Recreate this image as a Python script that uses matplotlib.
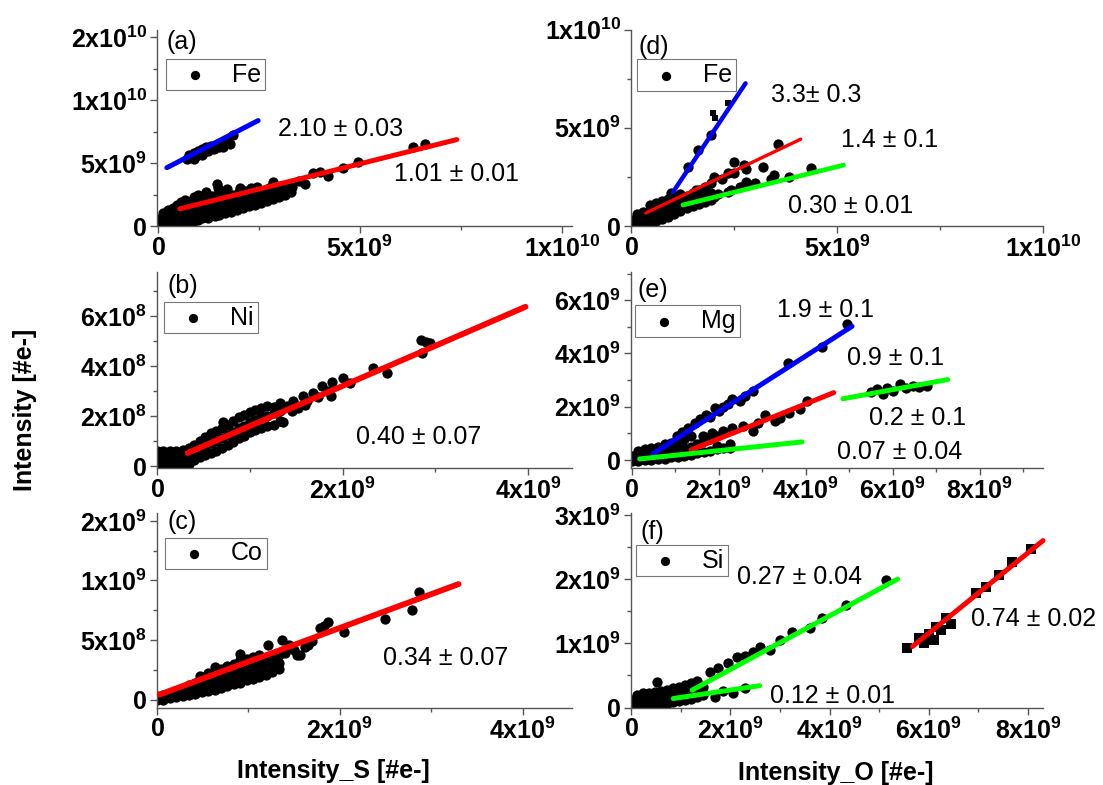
import numpy as np
import matplotlib.pyplot as plt

plt.rcParams['font.family'] = ['Liberation Sans', 'DejaVu Sans']
plt.rcParams['mathtext.fontset'] = 'custom'
plt.rcParams['mathtext.rm'] = 'Liberation Sans:bold'
plt.rcParams['mathtext.bf'] = 'Liberation Sans:bold'
plt.rcParams['mathtext.default'] = 'bf'

G = 1e9

# (a) Fe vs S, (x, y) in 1e9
a_pts = [
    (0.0, 0.05), (0.02, 0.45), (0.08, 0.2), (0.1, 0.7), (0.12, 1.05), (0.18, 0.0),
    (0.2, 0.45), (0.22, 0.85), (0.25, 1.25), (0.3, 0.2), (0.31, 0.65), (0.33, 1.0),
    (0.36, 1.45), (0.4, 0.05), (0.41, 0.45), (0.43, 0.85), (0.45, 1.2), (0.47, 1.7),
    (0.5, 0.25), (0.52, 0.65), (0.53, 1.05), (0.55, 1.45), (0.57, 1.9), (0.6, 0.1),
    (0.62, 0.5), (0.63, 0.9), (0.65, 1.3), (0.66, 1.7), (0.68, 2.1), (0.7, 0.3),
    (0.72, 0.75), (0.73, 1.15), (0.75, 1.5), (0.77, 1.9), (0.8, 0.2), (0.81, 0.6),
    (0.83, 1.0), (0.85, 1.4), (0.86, 1.8), (0.88, 2.3), (0.9, 0.4), (0.92, 0.8),
    (0.93, 1.2), (0.95, 1.6), (0.97, 2.0), (0.99, 2.5), (1.0, 0.5), (1.02, 0.95),
    (1.04, 1.35), (1.06, 1.75), (1.08, 2.15), (1.1, 0.6), (1.12, 1.05), (1.14, 1.45),
    (1.16, 1.85), (1.18, 2.3), (1.2, 2.7), (1.25, 0.65), (1.27, 1.1), (1.29, 1.55),
    (1.31, 1.95), (1.33, 2.4), (1.4, 0.8), (1.41, 1.25), (1.43, 1.65), (1.44, 2.05),
    (1.46, 2.5), (1.48, 3.0), (1.46, 3.35), (1.52, 0.9), (1.54, 1.4), (1.56, 1.85),
    (1.58, 2.25), (1.6, 2.7), (1.65, 1.0), (1.67, 1.5), (1.68, 1.95), (1.7, 2.4),
    (1.72, 2.9), (1.8, 1.15), (1.82, 1.6), (1.84, 2.05), (1.86, 2.5), (1.95, 1.3),
    (1.97, 1.75), (1.99, 2.2), (2.0, 2.7), (2.02, 3.0), (2.1, 1.45), (2.12, 1.9),
    (2.14, 2.4), (2.16, 2.8), (2.25, 1.55), (2.27, 2.0), (2.29, 2.5), (2.3, 3.0),
    (2.4, 1.7), (2.42, 2.2), (2.44, 2.7), (2.46, 3.1), (2.55, 1.85), (2.57, 2.3),
    (2.59, 2.8), (2.7, 2.0), (2.72, 2.5), (2.74, 3.0), (2.85, 3.5), (2.86, 2.15),
    (2.88, 2.6), (2.9, 3.1), (3.0, 2.3), (3.02, 2.8), (3.05, 3.2), (3.15, 2.5),
    (3.18, 2.95), (3.19, 3.1), (3.3, 2.7), (3.32, 3.1), (3.5, 3.6), (3.65, 3.3),
    (3.84, 4.2), (4.0, 4.3), (4.2, 4.0), (4.58, 4.6), (4.95, 5.1), (6.31, 6.3),
    (6.6, 6.5)]
a_hi_pts = [
    (0.72, 5.35), (0.78, 5.6), (0.85, 5.45), (0.88, 5.8), (0.95, 5.55), (0.98, 5.95),
    (1.05, 5.7), (1.08, 6.1), (1.15, 5.85), (1.2, 6.25), (1.25, 5.95), (1.32, 6.35),
    (1.38, 6.1), (1.45, 6.45), (1.5, 6.25), (1.58, 6.6), (1.62, 6.3), (1.7, 6.7),
    (1.78, 6.5), (1.86, 7.2), (0.9, 5.3), (1.1, 5.6)]
a_fit_blue = ([0.22, 2.48], [4.63, 8.37])
a_fit_red = ([0.54, 7.4], [1.36, 6.86])

# (b) Ni vs S, x in 1e9, y in 1e8
b_pts = [
    (0.0, 0.1), (0.0, 0.35), (0.0, 0.6), (0.07, 0.1), (0.07, 0.35), (0.07, 0.6),
    (0.14, 0.1), (0.14, 0.35), (0.14, 0.6), (0.21, 0.05), (0.21, 0.3), (0.21, 0.6),
    (0.28, 0.1), (0.28, 0.35), (0.28, 0.65), (0.35, 0.1), (0.35, 0.4), (0.35, 0.7),
    (0.4, 0.25), (0.4, 0.55), (0.4, 0.85), (0.46, 0.35), (0.46, 0.7), (0.46, 1.0),
    (0.52, 0.45), (0.52, 0.8), (0.52, 1.15), (0.58, 0.5), (0.58, 0.9), (0.58, 1.3),
    (0.64, 0.6), (0.64, 1.0), (0.64, 1.4), (0.7, 0.7), (0.7, 1.1), (0.7, 1.5),
    (0.71, 1.75), (0.76, 0.85), (0.76, 1.25), (0.76, 1.65), (0.82, 0.95), (0.82, 1.35),
    (0.82, 1.8), (0.88, 1.1), (0.88, 1.5), (0.88, 1.95), (0.94, 1.2), (0.94, 1.6),
    (0.94, 2.05), (1.0, 1.35), (1.0, 1.75), (1.0, 2.15), (1.06, 1.45), (1.06, 1.85),
    (1.06, 2.25), (1.12, 1.5), (1.12, 1.95), (1.12, 2.3), (1.19, 1.6), (1.19, 2.0),
    (1.19, 2.4), (1.26, 1.65), (1.26, 2.1), (1.26, 2.35), (1.33, 1.8), (1.33, 2.2),
    (1.33, 2.5), (1.36, 1.75), (1.4, 2.4), (1.45, 2.2), (1.47, 2.6), (1.52, 2.3),
    (1.57, 2.8), (1.6, 2.45), (1.62, 2.6), (1.68, 2.9), (1.73, 2.75), (1.78, 3.2),
    (1.84, 3.0), (1.87, 2.8), (1.89, 3.35), (2.0, 3.5), (2.08, 3.3), (2.33, 3.9),
    (2.48, 3.7), (2.84, 5.05), (2.9, 4.95), (2.94, 4.9), (2.86, 4.5)]
b_fit_red = ([0.33, 3.97], [0.52, 6.36])

# (c) Co vs S, x in 1e9, y in 1e8
c_pts = [
    (0.0, 0.0), (0.0, 0.3), (0.07, 0.0), (0.07, 0.4), (0.14, 0.1), (0.14, 0.5),
    (0.21, 0.2), (0.21, 0.7), (0.28, 0.3), (0.28, 0.8), (0.35, 0.4), (0.35, 0.9),
    (0.35, 1.2), (0.42, 0.5), (0.42, 1.0), (0.42, 1.4), (0.49, 0.6), (0.49, 1.1),
    (0.49, 1.6), (0.47, 2.0), (0.56, 0.7), (0.56, 1.2), (0.56, 1.7), (0.56, 2.2),
    (0.63, 0.8), (0.63, 1.3), (0.63, 1.8), (0.63, 2.4), (0.63, 2.7), (0.7, 1.0),
    (0.7, 1.5), (0.7, 2.0), (0.7, 2.6), (0.77, 1.1), (0.77, 1.6), (0.77, 2.1),
    (0.77, 2.8), (0.84, 1.3), (0.84, 1.8), (0.84, 2.3), (0.84, 3.0), (0.91, 1.4),
    (0.91, 1.9), (0.91, 2.5), (0.91, 3.3), (0.91, 3.8), (0.98, 1.6), (0.98, 2.1),
    (0.98, 2.7), (0.98, 3.4), (1.05, 1.7), (1.05, 2.3), (1.05, 2.9), (1.05, 3.6),
    (1.12, 1.9), (1.12, 2.5), (1.12, 3.1), (1.12, 3.7), (1.19, 2.1), (1.19, 2.7),
    (1.19, 3.3), (1.21, 4.55), (1.26, 2.3), (1.26, 2.9), (1.26, 3.5), (1.33, 2.6),
    (1.33, 3.1), (1.33, 3.7), (1.37, 5.0), (1.4, 3.9), (1.45, 4.6), (1.5, 4.2),
    (1.53, 3.7), (1.56, 3.7), (1.62, 4.4), (1.65, 4.6), (1.7, 4.9), (1.78, 6.0),
    (1.83, 6.2), (1.87, 6.5), (2.05, 5.65), (2.49, 6.8), (2.79, 7.5), (2.87, 9.0)]
c_fit_red = ([0.03, 3.3], [0.42, 9.7])

# (d) Fe vs O, (x, y) in 1e9
d_pts = [
    (0.0, 0.05), (0.0, 0.3), (0.15, 0.05), (0.15, 0.35), (0.15, 0.6), (0.3, 0.1),
    (0.3, 0.4), (0.3, 0.7), (0.45, 0.15), (0.45, 0.45), (0.45, 0.75), (0.45, 1.05),
    (0.6, 0.25), (0.6, 0.55), (0.6, 0.85), (0.6, 1.15), (0.75, 0.35), (0.75, 0.65),
    (0.75, 0.95), (0.75, 1.25), (0.9, 0.45), (0.9, 0.75), (0.9, 1.05), (0.9, 1.35),
    (1.05, 0.6), (1.05, 0.9), (1.05, 1.2), (1.05, 1.5), (1.2, 0.75), (1.2, 1.05),
    (1.2, 1.35), (1.2, 1.65), (1.35, 0.9), (1.35, 1.2), (1.35, 1.55), (1.5, 1.0),
    (1.5, 1.3), (1.5, 1.7), (1.65, 1.1), (1.65, 1.45), (1.65, 1.85), (1.8, 1.2),
    (1.8, 1.6), (1.8, 2.0), (1.95, 1.3), (1.95, 1.7), (1.95, 2.2), (2.1, 1.65),
    (2.2, 2.4), (2.35, 1.75), (2.5, 2.7), (2.65, 2.0), (2.8, 2.9), (3.0, 2.2),
    (3.2, 3.0), (3.4, 2.4), (2.49, 3.25), (2.74, 3.1), (3.56, 4.16), (2.35, 2.69),
    (2.01, 2.49), (1.57, 1.83), (2.78, 2.23), (3.46, 2.59), (3.83, 2.49), (4.36, 2.94),
    (2.42, 1.83), (2.01, 1.47), (0.97, 1.68), (1.38, 3.0), (1.62, 3.86), (1.94, 4.62)]
d_sq_pts = [(1.99, 5.74), (2.05, 5.5), (2.35, 6.24)]
d_fit_blue = ([1.02, 2.78], [1.73, 7.26])
d_fit_red = ([0.36, 4.12], [0.66, 4.42])
d_fit_green = ([1.26, 5.16], [1.07, 3.1])

# (e) Mg vs O, (x, y) in 1e9
e_pts = [
    (0.0, -0.05), (0.0, 0.15), (0.15, -0.05), (0.15, 0.15), (0.15, 0.35), (0.3, 0.0),
    (0.3, 0.2), (0.3, 0.4), (0.45, 0.0), (0.45, 0.2), (0.45, 0.45), (0.6, 0.05),
    (0.6, 0.25), (0.6, 0.5), (0.75, 0.05), (0.75, 0.3), (0.75, 0.6), (0.9, 0.1),
    (0.9, 0.35), (0.9, 0.65), (1.05, 0.1), (1.05, 0.4), (1.05, 0.75), (1.2, 0.15),
    (1.2, 0.45), (1.2, 0.8), (1.35, 0.2), (1.35, 0.5), (1.35, 0.9), (1.5, 0.25),
    (1.5, 0.6), (1.65, 0.3), (1.65, 0.7), (1.8, 0.35), (1.8, 0.8), (1.95, 0.4),
    (1.95, 0.9), (2.1, 0.45), (2.25, 0.45), (1.4, 0.34), (1.95, 0.53), (2.25, 0.6),
    (1.03, 0.91), (1.15, 1.05), (1.3, 1.2), (1.45, 1.4), (1.56, 1.55), (1.7, 1.7),
    (1.8, 1.6), (1.91, 1.96), (2.0, 1.85), (2.1, 2.0), (2.21, 2.11), (2.3, 2.3),
    (2.48, 2.23), (2.6, 2.4), (2.78, 2.6), (3.59, 3.66), (4.37, 4.23), (4.94, 5.09),
    (1.63, 0.91), (1.85, 1.0), (2.09, 1.09), (2.3, 1.2), (2.55, 1.28), (2.78, 1.09),
    (2.9, 1.4), (3.06, 1.7), (3.3, 1.45), (3.4, 1.58), (3.6, 1.75), (3.86, 1.92),
    (4.02, 2.23), (5.63, 2.68), (5.86, 2.72), (6.16, 2.87), (6.46, 2.79), (6.78, 2.79),
    (5.77, 2.49), (5.5, 2.55), (6.0, 2.6), (6.3, 2.7), (6.6, 2.75)]
e_fit_blue = ([0.48, 5.06], [0.23, 5.02])
e_fit_red = ([1.36, 4.64], [0.38, 2.53])
e_fit_green_lo = ([0.18, 3.91], [0.04, 0.68])
e_fit_green_hi = ([4.85, 7.26], [2.3, 3.02])

# (f) Si vs O, (x, y) in 1e9
f_pts = [
    (0.0, 0.02), (0.0, 0.12), (0.12, 0.02), (0.12, 0.12), (0.12, 0.2), (0.24, 0.02),
    (0.24, 0.12), (0.24, 0.22), (0.36, 0.03), (0.36, 0.13), (0.36, 0.22), (0.48, 0.04),
    (0.48, 0.14), (0.48, 0.24), (0.52, 0.39), (0.6, 0.05), (0.6, 0.15), (0.6, 0.25),
    (0.72, 0.06), (0.72, 0.16), (0.72, 0.27), (0.84, 0.08), (0.84, 0.18), (0.84, 0.3),
    (0.96, 0.1), (0.96, 0.2), (0.96, 0.32), (1.08, 0.12), (1.08, 0.22), (1.08, 0.35),
    (1.2, 0.14), (1.2, 0.25), (1.2, 0.38), (1.32, 0.17), (1.32, 0.28), (1.32, 0.42),
    (1.44, 0.2), (1.44, 0.32), (1.59, 0.56), (1.75, 0.62), (1.95, 0.7), (2.13, 0.78),
    (2.3, 0.8), (2.45, 0.86), (2.6, 0.95), (2.79, 0.9), (3.0, 1.05), (3.24, 1.17),
    (3.6, 1.24), (3.84, 1.4), (4.34, 1.6), (5.14, 1.98), (2.05, 0.23), (1.69, 0.16),
    (1.85, 0.25), (2.3, 0.3)]
f_sq_pts = [
    (5.55, 0.93), (5.81, 1.09), (6.01, 1.14), (6.15, 1.26), (6.35, 1.4), (6.95, 1.79),
    (7.16, 1.88), (7.42, 2.07), (7.68, 2.27), (8.06, 2.47), (5.9, 1.0), (6.1, 1.05),
    (6.25, 1.2), (6.45, 1.3)]
f_fit_green_hi = ([1.23, 5.37], [0.27, 2.0])
f_fit_green_lo = ([0.85, 2.59], [0.14, 0.34])
f_fit_red = ([5.67, 8.3], [0.95, 2.6])

BLUE, RED, GREEN = '#0000ff', '#ff0000', '#00ff00'
ZERO = r'$0$'

fig = plt.figure(figsize=(11.03, 7.85), dpi=100)

# axes boxes in figure fraction
ax_a = fig.add_axes([0.1423, 0.7121, 0.3762, 0.2503])
ax_b = fig.add_axes([0.1423, 0.4038, 0.3762, 0.2497])
ax_c = fig.add_axes([0.1423, 0.0987, 0.3762, 0.2478])
ax_d = fig.add_axes([0.5721, 0.7121, 0.3735, 0.2503])
ax_e = fig.add_axes([0.5721, 0.4038, 0.3735, 0.2497])
ax_f = fig.add_axes([0.5721, 0.0987, 0.3735, 0.2478])


def style(ax, xlim, ylim, xt, xl, xminor, yt, yl, yminor):
    ax.set_xlim(xlim)
    ax.set_ylim(ylim)
    ax.set_xticks(xt, xl)
    ax.set_yticks(yt, yl)
    ax.set_xticks(xminor, minor=True)
    ax.set_yticks(yminor, minor=True)
    for s in ['top', 'right']:
        ax.spines[s].set_visible(False)
    for s in ['left', 'bottom']:
        ax.spines[s].set_color('#555555')
        ax.spines[s].set_linewidth(1.0)
    ax.tick_params(which='major', direction='out', length=5, width=1,
                   color='#555555', labelsize=18, pad=2)
    ax.tick_params(which='minor', direction='out', length=3, width=1, color='#555555')


def dots(ax, pts, sx, sy, marker='o', size=55, label=None):
    p = np.array(pts)
    ax.scatter(p[:, 0] * sx, p[:, 1] * sy, s=size, c='black', marker=marker,
               linewidths=0, label=label, zorder=2)


def fit(ax, line, sx, sy, color, lw=3.6):
    ax.plot(np.array(line[0]) * sx, np.array(line[1]) * sy, color=color, lw=lw,
            solid_capstyle='round', zorder=3, clip_on=False)


def note(ax, x, y, s, sx, sy):
    ax.text(x * sx, y * sy, s, fontsize=18, ha='center', va='center_baseline')


def tag(ax, x, y, s):
    ax.text(x, y, s, fontsize=18, ha='left', va='top', transform=ax.transAxes)


def key(ax, x, y):
    ax.legend(loc='upper left', bbox_to_anchor=(x, y), fontsize=18, frameon=True,
              fancybox=False, edgecolor='#777777', framealpha=1, borderpad=0.15,
              handlelength=2.0, handletextpad=0.5, borderaxespad=0, markerscale=0.9)
    ax.get_legend().get_frame().set_linewidth(0.8)


# (a)
dots(ax_a, a_pts, G, G, label='Fe')
dots(ax_a, a_hi_pts, G, G)
fit(ax_a, a_fit_blue, G, G, BLUE)
fit(ax_a, a_fit_red, G, G, RED)
style(ax_a, (-0.025 * G, 10.25 * G), (0, 15.6 * G),
      [0, 5 * G, 10 * G], [ZERO, r'$5x10^{9}$', r'$1x10^{10}$'], [2.5 * G, 7.5 * G],
      [0, 5 * G, 10 * G, 15 * G], [ZERO, r'$5x10^{9}$', r'$1x10^{10}$', r'$2x10^{10}$'],
      [2.5 * G, 7.5 * G, 12.5 * G])
note(ax_a, 4.53, 7.89, '2.10 ± 0.03', G, G)
note(ax_a, 7.40, 4.31, '1.01 ± 0.01', G, G)
tag(ax_a, 0.024, 1.0, '(a)')
key(ax_a, 0.022, 0.85)

# (b)
dots(ax_b, b_pts, G, 1e8, label='Ni')
fit(ax_b, b_fit_red, G, 1e8, RED, lw=4.2)
style(ax_b, (0, 4.47 * G), (-0.08e8, 7.75e8),
      [0, 2 * G, 4 * G], [ZERO, r'$2x10^{9}$', r'$4x10^{9}$'], [1 * G, 3 * G],
      [0, 2e8, 4e8, 6e8], [ZERO, r'$2x10^{8}$', r'$4x10^{8}$', r'$6x10^{8}$'],
      [1e8, 3e8, 5e8, 7e8])
note(ax_b, 2.82, 1.27, '0.40 ± 0.07', G, 1e8)
tag(ax_b, 0.026, 0.99, '(b)')
key(ax_b, 0.017, 0.847)

# (c)
dots(ax_c, c_pts, G, 1e8, label='Co')
fit(ax_c, c_fit_red, G, 1e8, RED, lw=4.2)
style(ax_c, (0, 4.54 * G), (-0.67e8, 15.67e8),
      [0, 2 * G, 4 * G], [ZERO, r'$2x10^{9}$', r'$4x10^{9}$'], [1 * G, 3 * G],
      [0, 5e8, 10e8, 15e8], [ZERO, r'$5x10^{8}$', r'$1x10^{9}$', r'$2x10^{9}$'],
      [2.5e8, 7.5e8, 12.5e8])
note(ax_c, 3.16, 3.71, '0.34 ± 0.07', G, 1e8)
tag(ax_c, 0.026, 1.015, '(c)')
key(ax_c, 0.019, 0.874)

# (d)
dots(ax_d, d_pts, G, G, label='Fe')
dots(ax_d, d_sq_pts, G, G, marker='s', size=25)
fit(ax_d, d_fit_blue, G, G, BLUE, lw=3.2)
fit(ax_d, d_fit_red, G, G, RED, lw=2.4)
fit(ax_d, d_fit_green, G, G, GREEN, lw=3.4)
style(ax_d, (0, 10 * G), (0, 10 * G),
      [0, 5 * G, 10 * G], [ZERO, r'$5x10^{9}$', r'$1x10^{10}$'], [2.5 * G, 7.5 * G],
      [0, 5 * G, 10 * G], [ZERO, r'$5x10^{9}$', r'$1x10^{10}$'], [2.5 * G, 7.5 * G])
note(ax_d, 4.5, 6.8, '3.3± 0.3', G, G)
note(ax_d, 6.27, 4.52, '1.4 ± 0.1', G, G)
note(ax_d, 5.33, 1.12, '0.30 ± 0.01', G, G)
tag(ax_d, 0.017, 0.97, '(d)')
key(ax_d, 0.015, 0.848)

# (e)
dots(ax_e, e_pts, G, G, label='Mg')
fit(ax_e, e_fit_blue, G, G, BLUE)
fit(ax_e, e_fit_red, G, G, RED)
fit(ax_e, e_fit_green_lo, G, G, GREEN)
fit(ax_e, e_fit_green_hi, G, G, GREEN)
style(ax_e, (-0.02 * G, 9.45 * G), (-0.3 * G, 7.06 * G),
      [0, 2 * G, 4 * G, 6 * G, 8 * G],
      [ZERO, r'$2x10^{9}$', r'$4x10^{9}$', r'$6x10^{9}$', r'$8x10^{9}$'],
      [1 * G, 3 * G, 5 * G, 7 * G, 9 * G],
      [0, 2 * G, 4 * G, 6 * G], [ZERO, r'$2x10^{9}$', r'$4x10^{9}$', r'$6x10^{9}$'],
      [1 * G, 3 * G, 5 * G, 7 * G])
note(ax_e, 4.46, 5.74, '1.9 ± 0.1', G, G)
note(ax_e, 6.07, 3.92, '0.9 ± 0.1', G, G)
note(ax_e, 6.57, 1.66, '0.2 ± 0.1', G, G)
note(ax_e, 6.16, 0.38, '0.07 ± 0.04', G, G)
tag(ax_e, 0.015, 0.97, '(e)')
key(ax_e, 0.01, 0.83)

# (f)
dots(ax_f, f_pts, G, G, label='Si')
dots(ax_f, f_sq_pts, G, G, marker='s', size=50)
fit(ax_f, f_fit_green_hi, G, G, GREEN)
fit(ax_f, f_fit_green_lo, G, G, GREEN)
fit(ax_f, f_fit_red, G, G, RED)
style(ax_f, (0, 8.3 * G), (0, 3.03 * G),
      [0, 2 * G, 4 * G, 6 * G, 8 * G],
      [ZERO, r'$2x10^{9}$', r'$4x10^{9}$', r'$6x10^{9}$', r'$8x10^{9}$'],
      [1 * G, 3 * G, 5 * G, 7 * G],
      [0, 1 * G, 2 * G, 3 * G], [ZERO, r'$1x10^{9}$', r'$2x10^{9}$', r'$3x10^{9}$'],
      [0.5 * G, 1.5 * G, 2.5 * G])
note(ax_f, 3.4, 2.07, '0.27 ± 0.04', G, G)
note(ax_f, 4.06, 0.22, '0.12 ± 0.01', G, G)
note(ax_f, 8.12, 1.42, '0.74 ± 0.02', G, G)
tag(ax_f, 0.022, 0.965, '(f)')
key(ax_f, 0.012, 0.836)

# shared axis titles
fig.text(0.0227, 0.478, 'Intensity [#e-]', rotation=90, fontsize=18,
         fontweight='bold', ha='center', va='center')
fig.text(0.302, 0.018, 'Intensity_S [#e-]', fontsize=18, fontweight='bold',
         ha='center', va='center')
fig.text(0.758, 0.015, 'Intensity_O [#e-]', fontsize=18, fontweight='bold',
         ha='center', va='center')

fig.savefig('out.png', dpi=100)
